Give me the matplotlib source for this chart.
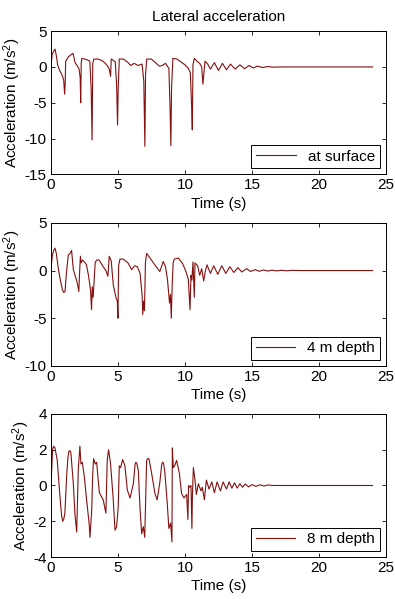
import matplotlib
matplotlib.use("Agg")
import matplotlib.pyplot as plt

plt.rcParams['font.family'] = ['Liberation Sans', 'DejaVu Sans']
plt.rcParams['mathtext.default'] = 'regular'
plt.rcParams['axes.unicode_minus'] = False

# at surface
surf_t = [0.00, 0.10, 0.20, 0.30, 0.40, 0.50, 0.65, 0.80, 0.95, 1.02, 1.06, 1.10,
          1.30, 1.50, 1.65, 1.80, 1.95, 2.10, 2.18, 2.22, 2.26, 2.30, 2.50, 2.70,
          2.90, 3.00, 3.07, 3.12, 3.20, 3.50, 3.80, 4.00, 4.20, 4.35, 4.45, 4.50,
          4.60, 4.80, 4.90, 4.97, 5.02, 5.10, 5.40, 5.70, 5.95, 6.20, 6.50, 6.80,
          6.93, 7.01, 7.06, 7.15, 7.50, 7.80, 8.10, 8.30, 8.55, 8.80, 8.88, 8.95,
          9.00, 9.10, 9.40, 9.70, 10.00, 10.25, 10.40, 10.50, 10.55, 10.60, 10.70,
          10.90, 11.10, 11.25, 11.34, 11.40, 11.50, 11.70, 11.90, 12.20, 12.50,
          12.80, 13.10, 13.40, 13.75, 14.10, 14.45, 14.80, 15.10, 15.40, 15.80,
          16.20, 16.60, 17.00, 24.00]
surf_a = [0.2, 1.8, 2.2, 2.5, 1.6, 0.3, -0.5, -1.0, -1.8, -3.8, -2.5, 0.8,
          1.4, 1.7, 1.9, 0.6, 0.2, -0.3, -1.5, -5.0, 0.5, 1.2, 1.1, 1.0,
          0.8, -3.0, -10.2, 0.5, 1.1, 1.1, 0.9, 0.6, 0.2, -0.3, -1.3, 1.1,
          1.0, 0.7, -2.5, -8.1, -3.0, 1.1, 1.1, 0.7, 0.2, 0.5, 0.2, 0.4,
          -2.0, -11.1, -1.0, 1.1, 1.1, 0.6, 0.1, 0.2, 0.5, -0.2, -5.0, -11.0,
          -3.0, 1.2, 1.1, 0.7, 0.3, -0.2, -0.8, -5.5, -8.8, 0.3, 1.2,
          0.8, 0.5, 0.0, -2.4, -1.2, 0.8, 0.4, -0.3, 0.6, -0.5,
          0.5, -0.4, 0.4, -0.3, 0.3, -0.25, 0.2, -0.15, 0.12, -0.08,
          0.05, -0.03, 0.0, 0.0]

# 4 m depth
d4_t = [0.00, 0.10, 0.20, 0.30, 0.40, 0.55, 0.70, 0.85, 0.95, 1.05, 1.15, 1.29,
        1.42, 1.54, 1.67, 1.80, 1.95, 2.08, 2.15, 2.20, 2.25, 2.35, 2.50, 2.65,
        2.80, 2.95, 3.03, 3.08, 3.15, 3.30, 3.40, 3.60, 3.85, 4.10, 4.25, 4.35,
        4.50, 4.65, 4.85, 4.95, 5.00, 5.05, 5.15, 5.40, 5.75, 6.02, 6.25, 6.45,
        6.65, 6.80, 6.85, 6.92, 6.98, 7.05, 7.14, 7.45, 7.80, 8.13, 8.38, 8.55,
        8.70, 8.85, 8.92, 8.98, 9.05, 9.12, 9.20, 9.50, 9.80, 10.05, 10.25,
        10.38, 10.45, 10.52, 10.60, 10.70, 10.75, 10.95, 11.10, 11.25, 11.40,
        11.50, 11.65, 11.90, 12.15, 12.45, 12.75, 13.05, 13.35, 13.65, 13.95,
        14.25, 14.60, 14.90, 15.25, 15.55, 15.85, 16.20, 16.50, 16.85, 17.20,
        17.60, 18.00, 18.60, 24.00]
d4_a = [0.2, 1.5, 2.1, 2.35, 1.8, 0.2, -1.0, -2.0, -2.3, -2.2, -0.3, 1.6,
        1.8, 2.1, 0.1, -0.5, -1.2, -2.2, 0.2, 1.5, 0.8, 1.1, 0.9, 0.6,
        -0.5, -2.0, -4.1, -1.7, -2.8, 0.8, 1.1, 1.1, 0.5, 0.0, -0.6, 1.5,
        1.0, -1.5, -2.8, -3.2, -5.0, 0.5, 1.2, 1.2, 0.8, 0.1, 0.5, 0.4,
        -0.3, -2.5, -4.6, -3.2, -4.2, 0.8, 1.8, 1.2, 0.5, -0.1, 0.95, 0.4,
        -1.0, -3.4, -2.5, -5.0, -1.5, 0.8, 1.2, 1.3, 0.8, 0.0, -0.9,
        -4.1, -0.5, -1.0, 0.9, -2.8, 0.8, 0.5, -0.5, 0.2, -1.1,
        -0.2, 0.6, -0.3, 0.5, -0.4, 0.5, -0.3, 0.4, -0.2, 0.3,
        -0.15, 0.2, -0.1, 0.1, -0.08, 0.06, -0.05, 0.04, -0.04, 0.03,
        -0.03, 0.02, 0.0, 0.0]

# 8 m depth
d8_t = [0.00, 0.05, 0.12, 0.20, 0.30, 0.47, 0.67, 0.80, 0.87, 0.95, 1.04, 1.17,
        1.27, 1.34, 1.42, 1.49, 1.67, 1.79, 1.92, 2.04, 2.16, 2.24, 2.34, 2.49,
        2.66, 2.86, 2.91, 3.04, 3.11, 3.18, 3.31, 3.41, 3.61, 3.90, 4.10, 4.20,
        4.30, 4.45, 4.65, 4.78, 4.90, 5.02, 5.10, 5.20, 5.35, 5.52, 5.70, 5.90,
        6.15, 6.28, 6.34, 6.40, 6.52, 6.64, 6.77, 6.89, 7.00, 7.14, 7.22, 7.31,
        7.51, 7.76, 7.93, 8.13, 8.27, 8.33, 8.40, 8.50, 8.68, 8.80, 8.93, 9.03,
        9.06, 9.13, 9.23, 9.38, 9.58, 9.75, 9.93, 10.13, 10.22, 10.27, 10.35,
        10.45, 10.52, 10.56, 10.63, 10.75, 10.85, 11.00, 11.20, 11.30, 11.45,
        11.60, 11.80, 12.00, 12.20, 12.40, 12.65, 12.85, 13.10, 13.30, 13.50,
        13.70, 13.90, 14.10, 14.30, 14.50, 14.75, 15.00, 15.30, 15.60, 15.90,
        16.20, 16.60, 24.00]
d8_a = [0.1, 0.8, 2.0, 2.2, 2.1, 1.4, -0.6, -1.7, -2.0, -1.9, -1.55, 0.5,
        1.6, 1.9, 1.95, 1.8, 0.1, -1.6, -2.6, 0.9, 2.2, 1.2, 1.3, 0.5,
        -0.8, -2.2, -2.9, -1.4, 0.5, 1.5, 1.2, 1.3, -0.4, -0.8, -1.55, 1.4,
        2.0, 1.2, -0.8, -2.5, -2.3, -1.2, 1.1, 1.0, 1.45, 1.1, -0.25, -0.7,
        0.1, 1.2, 1.3, 1.25, 0.85, -1.2, -2.7, -2.3, -2.9, 1.4, 1.5, 1.5,
        0.7, -0.45, -0.8, 0.2, 1.2, 1.3, 1.25, 0.75, -1.0, -2.4, -2.1, -3.15,
        2.1, 1.0, 1.1, 1.4, 0.7, -0.45, -0.7, -0.5, -1.9, 0.0, -0.1,
        0.0, -2.4, -0.5, 1.0, 0.3, -0.5, 0.1, -0.3, -0.1, -0.8,
        0.3, -0.2, 0.2, -0.4, 0.2, -0.3, 0.2, -0.2, 0.2, -0.15,
        0.15, -0.15, 0.1, -0.1, 0.08, -0.08, 0.05, -0.05, 0.04, -0.03,
        0.03, 0.0, 0.0]

panels = [
    (surf_t, surf_a, 'at surface', (-15, 5), [5, 0, -5, -10, -15]),
    (d4_t, d4_a, '4 m depth', (-10, 5), [5, 0, -5, -10]),
    (d8_t, d8_a, '8 m depth', (-4, 4), [4, 2, 0, -2, -4]),
]
tops = [0.948, 0.628, 0.309]
line_color = '#841010'
fs = 11

fig = plt.figure(figsize=(3.95, 5.99), dpi=100)
for i, (t, a, name, ylim, yticks) in enumerate(panels):
    ax = fig.add_axes([0.129, tops[i] - 0.239, 0.848, 0.239])
    ax.plot(t, a, color=line_color, lw=0.8, label=name)
    ax.set_xlim(0, 25)
    ax.set_ylim(*ylim)
    ax.set_xticks([0, 5, 10, 15, 20, 25])
    ax.set_yticks(yticks)
    ax.tick_params(direction='in', top=True, right=True, labelsize=fs,
                   length=3, width=0.6, pad=3)
    for s in ax.spines.values():
        s.set_linewidth(0.7)
    ax.set_xlabel('Time (s)', fontsize=fs, labelpad=3)
    ax.set_ylabel('Acceleration (m/s$^2$)', fontsize=fs, labelpad=1)
    leg = ax.legend(loc='lower right', fontsize=fs, fancybox=False,
                    edgecolor='black', framealpha=1, borderaxespad=0.4,
                    handlelength=2.6, borderpad=0.3)
    leg.get_frame().set_linewidth(0.7)
    if i == 0:
        ax.set_title('Lateral acceleration', fontsize=fs, pad=7)

fig.savefig('out.png', dpi=100)
